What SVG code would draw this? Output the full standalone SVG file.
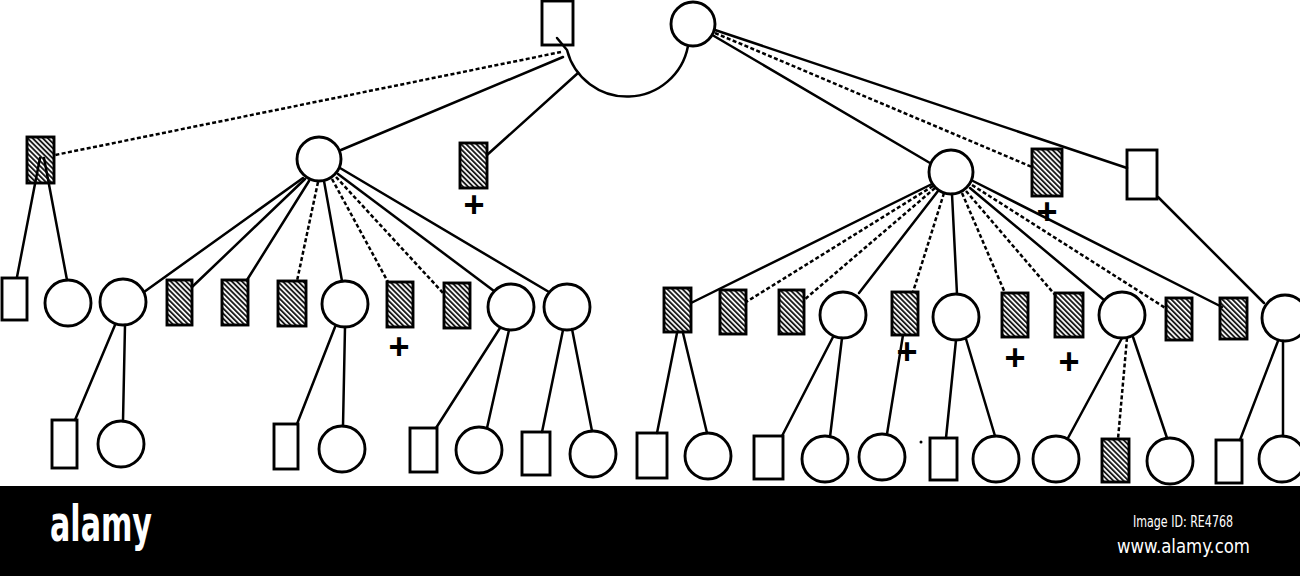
<svg xmlns="http://www.w3.org/2000/svg" width="1300" height="576" viewBox="0 0 1300 576">
<defs>
<pattern id="hatch" patternUnits="userSpaceOnUse" width="3.6" height="3.6" patternTransform="rotate(-45)">
<rect width="3.6" height="3.6" fill="#fff"/>
<line x1="0.9" y1="0" x2="0.9" y2="3.6" stroke="#1a1a1a" stroke-width="2"/>
</pattern>
<style>
.o{fill:#fff;stroke:#000;stroke-width:2.9}
.h{fill:url(#hatch);stroke:#000;stroke-width:2.9}
.s{stroke:#000;stroke-width:2.5;fill:none;stroke-linecap:round}
.d{stroke-dasharray:4 2.4;stroke-linecap:butt}
.p{font-family:"Liberation Sans",Arial,sans-serif;font-size:36px;font-weight:bold;text-anchor:middle;fill:#000}
.w{font-family:"DejaVu Sans Condensed","Liberation Sans",sans-serif;fill:#fff}
</style>
</defs>
<rect width="1300" height="576" fill="#fff"/>

<g id="top-square"><rect class="o" x="542" y="1" width="31" height="44"/></g>
<g id="top-circle"><circle class="o" cx="693" cy="24" r="22"/></g>

<g id="l1-a"><rect class="h" x="27" y="137" width="27" height="46"/></g>
<g id="l1-b"><circle class="o" cx="319" cy="159" r="22"/></g>
<g id="l1-c"><rect class="h" x="460" y="143" width="27" height="45"/><text class="p" x="474" y="217">+</text></g>
<g id="l1-d"><circle class="o" cx="951" cy="172" r="22"/></g>
<g id="l1-e"><rect class="h" x="1032" y="149" width="30" height="47"/><text class="p" x="1047" y="224">+</text></g>
<g id="l1-f"><rect class="o" x="1127" y="150" width="30" height="49"/></g>

<g id="l2-1"><rect class="o" x="2" y="278" width="25" height="42"/></g>
<g id="l2-2"><circle class="o" cx="68" cy="303" r="23"/></g>
<g id="l2-3"><circle class="o" cx="123" cy="302" r="23"/></g>
<g id="l2-4"><rect class="h" x="167" y="280" width="25" height="45"/></g>
<g id="l2-5"><rect class="h" x="222" y="280" width="26" height="45"/></g>
<g id="l2-6"><rect class="h" x="278" y="281" width="28" height="45"/></g>
<g id="l2-7"><circle class="o" cx="345" cy="304" r="23"/></g>
<g id="l2-8"><rect class="h" x="387" y="282" width="26" height="45"/><text class="p" x="399" y="359">+</text></g>
<g id="l2-9"><rect class="h" x="444" y="283" width="26" height="45"/></g>
<g id="l2-10"><circle class="o" cx="511" cy="307" r="23"/></g>
<g id="l2-11"><circle class="o" cx="567" cy="307" r="23"/></g>
<g id="l2-12"><rect class="h" x="664" y="288" width="27" height="44"/></g>
<g id="l2-13"><rect class="h" x="720" y="290" width="26" height="44"/></g>
<g id="l2-14"><rect class="h" x="779" y="290" width="25" height="44"/></g>
<g id="l2-15"><circle class="o" cx="843" cy="315" r="23"/></g>
<g id="l2-16"><rect class="h" x="892" y="292" width="26" height="43"/><text class="p" x="907" y="364">+</text></g>
<g id="l2-17"><circle class="o" cx="956" cy="317" r="23"/></g>
<g id="l2-18"><rect class="h" x="1002" y="293" width="26" height="44"/><text class="p" x="1015" y="370">+</text></g>
<g id="l2-19"><rect class="h" x="1055" y="293" width="28" height="44"/><text class="p" x="1069" y="374">+</text></g>
<g id="l2-20"><circle class="o" cx="1122" cy="315" r="23"/></g>
<g id="l2-21"><rect class="h" x="1166" y="298" width="26" height="42"/></g>
<g id="l2-22"><rect class="h" x="1220" y="298" width="27" height="41"/></g>
<g id="l2-23"><circle class="o" cx="1285" cy="318" r="23"/></g>

<g id="l3-a"><rect class="o" x="52" y="420" width="25" height="48"/></g>
<g id="l3-b"><circle class="o" cx="121" cy="444" r="23"/></g>
<g id="l3-c"><rect class="o" x="274" y="424" width="24" height="45"/></g>
<g id="l3-d"><circle class="o" cx="342" cy="449" r="23"/></g>
<g id="l3-e"><rect class="o" x="410" y="428" width="27" height="44"/></g>
<g id="l3-f"><circle class="o" cx="479" cy="450" r="23"/></g>
<g id="l3-g"><rect class="o" x="522" y="432" width="28" height="43"/></g>
<g id="l3-h"><circle class="o" cx="593" cy="454" r="23"/></g>
<g id="l3-i"><rect class="o" x="637" y="433" width="30" height="45"/></g>
<g id="l3-j"><circle class="o" cx="708" cy="456" r="23"/></g>
<g id="l3-k"><rect class="o" x="754" y="436" width="29" height="43"/></g>
<g id="l3-l"><circle class="o" cx="825" cy="459" r="23"/></g>
<g id="l3-m"><circle class="o" cx="882" cy="457" r="23"/></g>
<g id="l3-n"><rect class="o" x="930" y="438" width="27" height="42"/><circle cx="921" cy="442" r="1.5" fill="#000"/></g>
<g id="l3-o"><circle class="o" cx="996" cy="459" r="23"/></g>
<g id="l3-p"><circle class="o" cx="1056" cy="459" r="23"/></g>
<g id="l3-q"><rect class="h" x="1102" y="439" width="27" height="43"/></g>
<g id="l3-r"><circle class="o" cx="1170" cy="461" r="23"/></g>
<g id="l3-s"><rect class="o" x="1216" y="440" width="26" height="43"/></g>
<g id="l3-t"><circle class="o" cx="1282" cy="459" r="23"/></g>

<g id="connectors">
<path class="s" d="M557,38 L567,50 A62,62 0 0 0 688,46"/>
<path class="s d" d="M561,52 L55,155"/>
<path class="s" d="M563,57 L341,150"/>
<path class="s" d="M578,73 L487,155"/>
<path class="s" d="M715,30 L1127,168"/>
<path class="s d" d="M715,33 L1032,167"/>
<path class="s" d="M714,36 L930,163"/>
<path class="s" d="M40,158 L17,277"/>
<path class="s" d="M44,158 L67,280"/>
<path class="s" d="M303,178 L144,292"/>
<path class="s" d="M305,179 L192,287"/>
<path class="s" d="M309,181 L247,280"/>
<path class="s d" d="M318,182 L297,281"/>
<path class="s" d="M324,181 L342,281"/>
<path class="s d" d="M332,179 L388,282"/>
<path class="s d" d="M336,177 L444,294"/>
<path class="s" d="M338,174 L494,291"/>
<path class="s" d="M340,168 L549,292"/>
<path class="s" d="M932,184 L691,303"/>
<path class="s d" d="M933,186 L746,302"/>
<path class="s d" d="M935,188 L804,300"/>
<path class="s" d="M938,191 L859,293"/>
<path class="s d" d="M944,193 L913,292"/>
<path class="s" d="M952,194 L957,294"/>
<path class="s d" d="M962,193 L1005,293"/>
<path class="s d" d="M966,191 L1056,296"/>
<path class="s" d="M970,188 L1104,300"/>
<path class="s d" d="M972,185 L1167,309"/>
<path class="s" d="M973,181 L1222,307"/>
<path class="s" d="M1158,197 L1264,303"/>
<path class="s" d="M115,325 L75,420"/>
<path class="s" d="M125,325 L123,421"/>
<path class="s" d="M335,327 L297,424"/>
<path class="s" d="M345,327 L343,426"/>
<path class="s" d="M500,328 L436,428"/>
<path class="s" d="M509,330 L487,428"/>
<path class="s" d="M563,330 L542,432"/>
<path class="s" d="M572,329 L592,431"/>
<path class="s" d="M677,333 L657,433"/>
<path class="s" d="M683,333 L707,433"/>
<path class="s" d="M833,337 L782,436"/>
<path class="s" d="M842,338 L830,437"/>
<path class="s" d="M903,335 L887,434"/>
<path class="s" d="M956,340 L946,438"/>
<path class="s" d="M966,339 L995,436"/>
<path class="s" d="M1122,338 L1068,438"/>
<path class="s d" d="M1127,338 L1118,439"/>
<path class="s" d="M1133,337 L1167,438"/>
<path class="s" d="M1278,341 L1240,440"/>
<path class="s" d="M1283,341 L1283,436"/>
</g>

<g id="watermark">
<rect x="0" y="486" width="1300" height="90" fill="#000"/>
<text class="w" x="50" y="541" font-size="50" font-weight="bold" textLength="102" lengthAdjust="spacingAndGlyphs">alamy</text>
<text class="w" x="1133" y="527" font-size="16" textLength="100" lengthAdjust="spacingAndGlyphs">Image ID: RE4768</text>
<text class="w" x="1117" y="553" font-size="19" textLength="133" lengthAdjust="spacingAndGlyphs">www.alamy.com</text>
</g>
</svg>
